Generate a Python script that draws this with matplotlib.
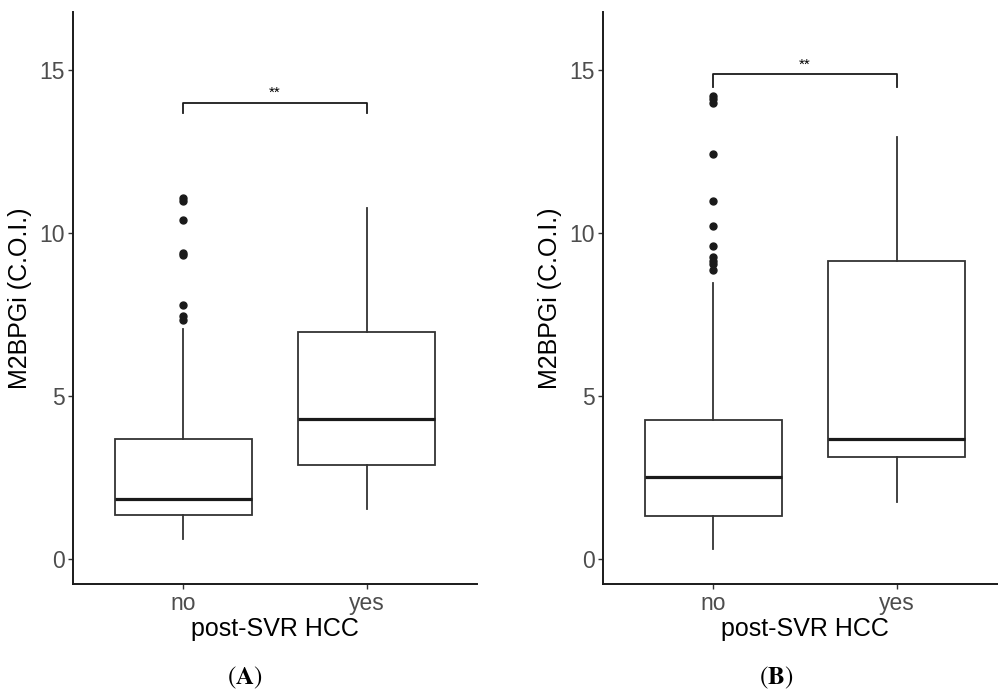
import matplotlib
matplotlib.use("Agg")
import matplotlib.pyplot as plt

plt.rcParams['font.family'] = ['Liberation Sans', 'DejaVu Sans']
plt.rcParams['mathtext.fontset'] = 'stix'

groups = ["no", "yes"]

# panel A: box statistics
a_no = dict(whislo=0.60, q1=1.33, med=1.82, q3=3.66, whishi=7.05,
            fliers=[7.33, 7.45, 7.78, 9.31, 9.39, 10.39, 10.98, 11.06])
a_yes = dict(whislo=1.51, q1=2.87, med=4.30, q3=6.96, whishi=10.75, fliers=[])

# panel B
b_no = dict(whislo=0.29, q1=1.31, med=2.51, q3=4.27, whishi=8.45,
            fliers=[8.86, 9.04, 9.15, 9.25, 9.59, 10.21, 10.99, 12.42, 13.98, 14.12, 14.21])
b_yes = dict(whislo=1.74, q1=3.13, med=3.66, q3=9.15, whishi=12.93, fliers=[])

# significance brackets: (top y, leg bottom y, label)
bracket_a = (14.0, 13.67, "**")
bracket_b = (14.88, 14.47, "**")

fig = plt.figure(figsize=(9.98, 6.93), dpi=100)
ax_a = fig.add_axes([73.3 / 998, 1 - 584 / 693, 403.4 / 998, 572.3 / 693])
ax_b = fig.add_axes([603.3 / 998, 1 - 584 / 693, 403.4 / 998, 572.3 / 693])

line_col = "#333333"


def draw_panel(ax, stats_list, bracket, tag, tag_x):
    stats = [dict(s, label=g) for s, g in zip(stats_list, groups)]
    ax.bxp(stats, positions=[1, 2], widths=0.75, showfliers=True, patch_artist=True,
           boxprops=dict(facecolor="white", edgecolor=line_col, linewidth=1.3),
           medianprops=dict(color="#1a1a1a", linewidth=2.3, solid_capstyle="butt"),
           whiskerprops=dict(color=line_col, linewidth=1.3),
           capprops=dict(linewidth=0),
           flierprops=dict(marker="o", markerfacecolor="#1a1a1a", markeredgecolor="#1a1a1a",
                           markersize=5, linestyle="none"))
    top, leg, txt = bracket
    ax.plot([1, 1, 2, 2], [leg, top, top, leg], color="#1a1a1a", linewidth=1.3)
    ax.text(1.5, top + 0.17, txt, ha="center", va="baseline", fontsize=11)

    ax.set_xlim(0.4, 2.6)
    ax.set_ylim(-0.78, 16.79)
    ax.set_yticks([0, 5, 10, 15])
    ax.set_xticks([1, 2])
    ax.set_xticklabels(groups)
    for s in ["top", "right"]:
        ax.spines[s].set_visible(False)
    for s in ["left", "bottom"]:
        ax.spines[s].set_color("#1a1a1a")
        ax.spines[s].set_linewidth(1.4)
    ax.tick_params(axis="both", labelsize=16.5, labelcolor="#4d4d4d", color="#333333",
                   length=3.6, width=1.0, pad=2.5)
    ax.set_xlabel("post-SVR HCC", fontsize=18, labelpad=1)
    ax.set_ylabel("M2BPGi (C.O.I.)", fontsize=18, labelpad=5)
    fig.text(tag_x, 1 - 678 / 693, r"$(\mathbf{" + tag + r"})$", ha="center", va="center",
             fontsize=18)


draw_panel(ax_a, [a_no, a_yes], bracket_a, "A", 245 / 998)
draw_panel(ax_b, [b_no, b_yes], bracket_b, "B", 776 / 998)

fig.savefig("out.png", dpi=100)
